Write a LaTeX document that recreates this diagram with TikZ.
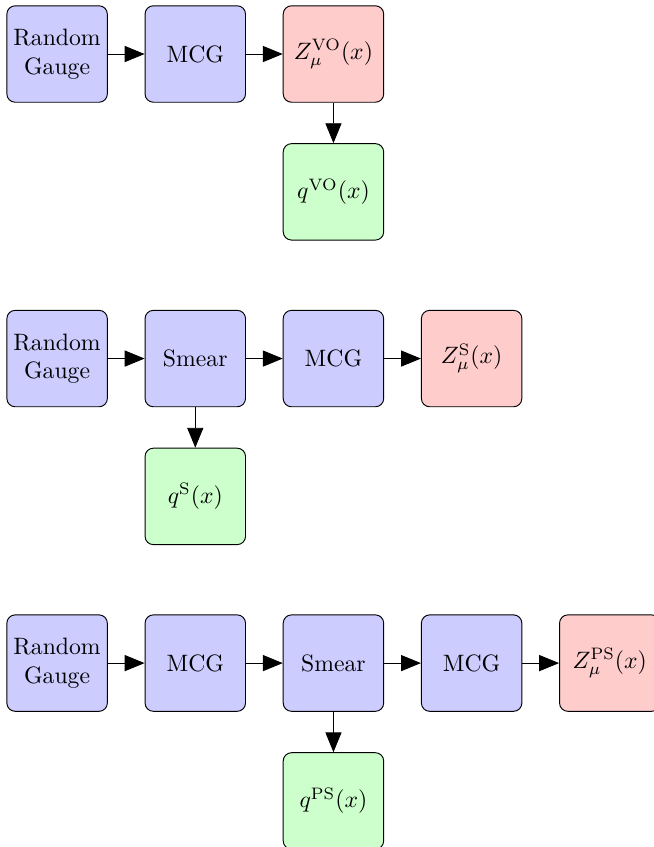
\documentclass[tikz,border=0pt]{standalone}
\usepackage{amsmath}
\usepackage{amssymb}
\usetikzlibrary{positioning,arrows.meta}

\tikzset{
	box/.style={draw, rounded corners=3.5pt, inner sep=2pt, minimum width=1.49cm, minimum height=1.43cm, align=center},
	gauge/.style={box, fill=blue!20},
	field/.style={box, fill=red!20},
	charge/.style={box, fill=green!20},
	flow/.style={-{Triangle[length=8.4pt,width=6.8pt]}}
}

\begin{document}
\begin{tikzpicture}[node distance=0.6cm and 0.545cm]
		\useasboundingbox (-24.1pt, 22.8pt) rectangle (251.85pt, -334.6pt);
		% no smearing
		\node[gauge] (rgA) at (0, 0) {Random\\Gauge};
		\node[gauge, right=of rgA] (mcgA) {MCG};
		\node[field, right=of mcgA] (zA) {$Z_\mu^{\mathrm{VO}}(x)$};
		\node[charge, below=of zA] (qA) {$q^{\mathrm{VO}}(x)$};
		\draw[flow] (rgA) to (mcgA);
		\draw[flow] (mcgA) to (zA);
		\draw[flow] (zA) to (qA);
		% smearing first
		\node[gauge] (rgB) at (0, -128.5pt) {Random\\Gauge};
		\node[gauge, right=of rgB] (smB) {Smear};
		\node[gauge, right=of smB] (mcgB) {MCG};
		\node[field, right=of mcgB] (zB) {$Z_\mu^{\mathrm{S}}(x)$};
		\node[charge, below=of smB] (qB) {$q^{\mathrm{S}}(x)$};
		\draw[flow] (rgB) to (smB);
		\draw[flow] (smB) to (mcgB);
		\draw[flow] (mcgB) to (zB);
		\draw[flow] (smB) to (qB);
		% gauge fixed, smeared, fixed again
		\node[gauge] (rgC) at (0, -257pt) {Random\\Gauge};
		\node[gauge, right=of rgC] (mcgC) {MCG};
		\node[gauge, right=of mcgC] (smC) {Smear};
		\node[gauge, right=of smC] (mcgD) {MCG};
		\node[field, right=of mcgD] (zC) {$Z_\mu^{\mathrm{PS}}(x)$};
		\node[charge, below=of smC] (qC) {$q^{\mathrm{PS}}(x)$};
		\draw[flow] (rgC) to (mcgC);
		\draw[flow] (mcgC) to (smC);
		\draw[flow] (smC) to (mcgD);
		\draw[flow] (mcgD) to (zC);
		\draw[flow] (smC) to (qC);
	\end{tikzpicture}
\end{document}
